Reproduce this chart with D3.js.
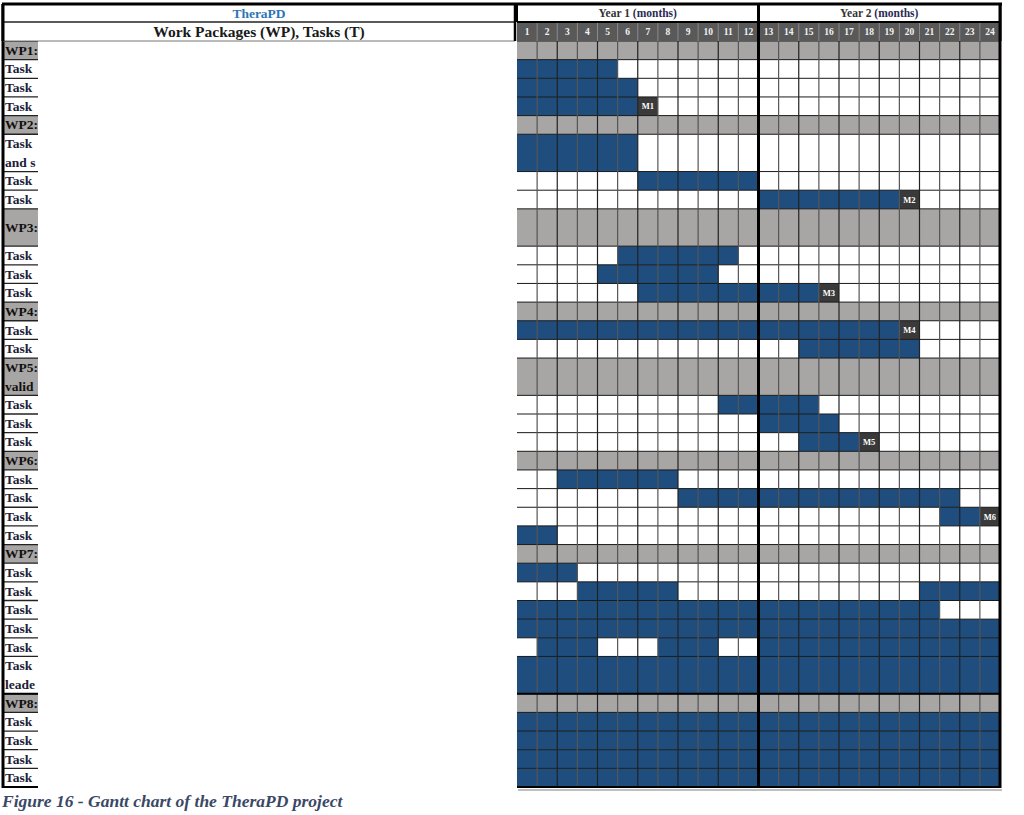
<!DOCTYPE html>
<html><head><meta charset="utf-8">
<script src="https://cdn.jsdelivr.net/npm/d3@7"></script>
<style>html,body{margin:0;padding:0;background:#fff;}svg{display:block;}</style>
</head><body>
<svg id="c" width="1024" height="815"></svg>
<script>
// ---------- data ----------
const title = "TheraPD";
const leftHeader = "Work Packages (WP), Tasks (T)";
const yearLabels = ["Year 1", "Year 2"];
const monthLabels = ["1","2","3","4","5","6","7","8","9","10","11","12","13","14","15","16","17","18","19","20","21","22","23","24"];
const caption = "Figure 16 - Gantt chart of the TheraPD project";

const rowIds = ["WP1","T1.1","T1.2","T1.3","WP2","T2.1","T2.2","T2.3","WP3","T3.1","T3.2","T3.3","WP4","T4.1","T4.2","WP5","T5.1","T5.2","T5.3","WP6","T6.1","T6.2","T6.3","T6.4","WP7","T7.1","T7.2","T7.3","T7.4","T7.5","T7.6","WP8","T8.1","T8.2","T8.3","T8.4"];
const rowText = [["WP1:"],["Task"],["Task"],["Task"],["WP2:"],["Task","and s"],["Task"],["Task"],["WP3:"],["Task"],["Task"],["Task"],["WP4:"],["Task"],["Task"],["WP5:","valid"],["Task"],["Task"],["Task"],["WP6:"],["Task"],["Task"],["Task"],["Task"],["WP7:"],["Task"],["Task"],["Task"],["Task"],["Task"],["Task","leade"],["WP8:"],["Task"],["Task"],["Task"],["Task"]];
const rowUnits = [1,1,1,1, 1,2,1,1, 2,1,1,1, 1,1,1, 2,1,1,1, 1,1,1,1,1, 1,1,1,1,1,1,2, 1,1,1,1,1];
// active months per task (inclusive ranges)
const taskBars = {
  "T1.1":[[1,5]], "T1.2":[[1,6]], "T1.3":[[1,6]],
  "T2.1":[[1,6]], "T2.2":[[7,12]], "T2.3":[[13,19]],
  "T3.1":[[6,11]], "T3.2":[[5,10]], "T3.3":[[7,15]],
  "T4.1":[[1,19]], "T4.2":[[15,20]],
  "T5.1":[[11,15]], "T5.2":[[13,16]], "T5.3":[[15,17]],
  "T6.1":[[3,8]], "T6.2":[[9,22]], "T6.3":[[22,23]], "T6.4":[[1,2]],
  "T7.1":[[1,3]], "T7.2":[[4,8],[21,24]], "T7.3":[[1,21]], "T7.4":[[1,24]], "T7.5":[[2,4],[8,10],[13,24]], "T7.6":[[1,24]],
  "T8.1":[[1,24]], "T8.2":[[1,24]], "T8.3":[[1,24]], "T8.4":[[1,24]]
};
const milestoneRows = ["T1.3","T2.3","T3.3","T4.1","T5.3","T6.3"];
const milestoneMonths = [7,20,16,20,18,24];
const milestoneLabels = ["M1","M2","M3","M4","M5","M6"];

// ---------- drawing ----------
const BLUE = "#1f4e7e", GREY = "#a8a5a5", DARK = "#595959", MS = "#3a3a3a";
const SERIF = "'Liberation Serif','DejaVu Serif',serif";
const svg = d3.select("#c");

const x = d3.scaleBand().domain(monthLabels).range([517, 1000]).paddingInner(0).paddingOuter(0);
const totalUnits = d3.sum(rowUnits);
const y = d3.scaleLinear().domain([0, totalUnits]).range([41, 787]);
const starts = [0, ...d3.cumsum(rowUnits)];
const rows = rowIds.map((id, i) => ({id, i, text: rowText[i], u0: starts[i], u1: starts[i+1], wp: id.startsWith("WP")}));
const byId = new Map(rows.map(r => [r.id, r]));
const xs = m => x(String(m));
const xe = m => x(String(m)) + x.bandwidth();

// grey WP rows
svg.append("g").selectAll("rect").data(rows.filter(r => r.wp)).join("rect")
  .attr("x", 517).attr("width", 1000 - 517)
  .attr("y", r => y(r.u0)).attr("height", r => y(r.u1) - y(r.u0))
  .attr("fill", GREY);
svg.append("g").selectAll("rect").data(rows.filter(r => r.wp)).join("rect")
  .attr("x", 3).attr("width", 35)
  .attr("y", r => y(r.u0)).attr("height", r => y(r.u1) - y(r.u0))
  .attr("fill", GREY);

// task bars
const segs = [];
rows.filter(r => !r.wp).forEach(r => (taskBars[r.id] || []).forEach(s => segs.push({r, a: s[0], b: s[1]})));
svg.append("g").selectAll("rect").data(segs).join("rect")
  .attr("x", d => xs(d.a)).attr("width", d => xe(d.b) - xs(d.a))
  .attr("y", d => y(d.r.u0)).attr("height", d => y(d.r.u1) - y(d.r.u0))
  .attr("fill", BLUE);

// milestones
const ms = milestoneRows.map((id, k) => ({r: byId.get(id), m: milestoneMonths[k], label: milestoneLabels[k]}));
const gm = svg.append("g");
gm.selectAll("rect").data(ms).join("rect")
  .attr("x", d => xs(d.m)).attr("width", x.bandwidth())
  .attr("y", d => y(d.r.u0)).attr("height", d => y(d.r.u1) - y(d.r.u0))
  .attr("fill", MS);
gm.selectAll("text").data(ms).join("text")
  .attr("x", d => xs(d.m) + x.bandwidth()/2).attr("y", d => (y(d.r.u0) + y(d.r.u1))/2 + 3)
  .attr("text-anchor", "middle").attr("fill", "#fff")
  .style("font", `bold 8.5px ${SERIF}`).text(d => d.label);

// grid lines (horizontal)
const gl = svg.append("g");
gl.selectAll("line.h").data(starts).join("line").attr("class","h")
  .attr("x1", 517).attr("x2", 1000).attr("y1", u => y(u)).attr("y2", u => y(u))
  .attr("stroke", "#1a1a1a").attr("stroke-width", 1);
gl.selectAll("line.hl").data(starts).join("line").attr("class","hl")
  .attr("x1", 3).attr("x2", 38).attr("y1", u => y(u)).attr("y2", u => y(u))
  .attr("stroke", "#222").attr("stroke-width", 1.3);
// vertical
gl.selectAll("line.v").data(monthLabels.slice(1)).join("line").attr("class","v")
  .attr("x1", m => x(m)).attr("x2", m => x(m)).attr("y1", 41).attr("y2", 787)
  .attr("stroke", (m, i) => i % 2 ? "#222" : "#555").attr("stroke-width", 1.2);

// thick lines
const ydiv = xs(13);
svg.append("line").attr("x1", ydiv).attr("x2", ydiv).attr("y1", 4).attr("y2", 788).attr("stroke", "#000").attr("stroke-width", 3);
svg.append("line").attr("x1", 1000).attr("x2", 1000).attr("y1", 4).attr("y2", 788).attr("stroke", "#000").attr("stroke-width", 3);
svg.append("line").attr("x1", 517).attr("x2", 1001).attr("y1", 787).attr("y2", 787).attr("stroke", "#000").attr("stroke-width", 2);
svg.append("line").attr("x1", 518).attr("x2", 1002).attr("y1", 790).attr("y2", 790).attr("stroke", "#aaa").attr("stroke-width", 1.5);
svg.append("line").attr("x1", 3).attr("x2", 3).attr("y1", 4).attr("y2", 788).attr("stroke", "#000").attr("stroke-width", 3);
svg.append("line").attr("x1", 2).attr("x2", 38).attr("y1", 787).attr("y2", 787).attr("stroke", "#000").attr("stroke-width", 2);
// thick line above WP8
const y8 = y(byId.get("WP8").u0);
[[3, 38], [517, 1000]].forEach(([a, b]) =>
  svg.append("line").attr("x1", a).attr("x2", b).attr("y1", y8).attr("y2", y8).attr("stroke", "#000").attr("stroke-width", 2));

// labels
svg.append("clipPath").attr("id","lc").append("rect").attr("x",3).attr("y",41).attr("width",35).attr("height",750);
const gt = svg.append("g").attr("clip-path","url(#lc)");
rows.forEach(r => {
  const h = y(r.u1) - y(r.u0);
  r.text.forEach((t, k) => {
    let cy;
    if (r.text.length === 1) cy = (y(r.u0) + y(r.u1)) / 2;
    else cy = y(r.u0) + h * (k + 0.5) / r.text.length;
    gt.append("text").attr("x", 5).attr("y", cy + 4.5)
      .attr("fill", r.wp ? "#111" : "#202036")
      .style("font", `bold 13.5px ${SERIF}`).text(t);
  });
});

// ---------- header ----------
const H0 = 4, H1 = 22, H2 = 41;
// left header
svg.append("rect").attr("x", 3).attr("y", H0).attr("width", 512).attr("height", H2 - H0).attr("fill", "#fff");
svg.append("line").attr("x1", 3).attr("x2", 515).attr("y1", H1).attr("y2", H1).attr("stroke", "#222").attr("stroke-width", 1.3);
svg.append("line").attr("x1", 3).attr("x2", 515).attr("y1", H2).attr("y2", H2).attr("stroke", "#777").attr("stroke-width", 1);
svg.append("line").attr("x1", 515).attr("x2", 515).attr("y1", H0).attr("y2", H2).attr("stroke", "#000").attr("stroke-width", 2.5);
svg.append("text").attr("x", 259).attr("y", 18).attr("text-anchor", "middle").attr("fill", "#2e75b6")
  .style("font", `bold 13.5px ${SERIF}`).text(title);
svg.append("text").attr("x", 259).attr("y", 37).attr("text-anchor", "middle").attr("fill", "#1a1a1a")
  .style("font", `bold 15.5px ${SERIF}`).text(leftHeader);

// year cells
const years = yearLabels.map((t, k) => ({t, a: xs(k*12+1), b: xe(k*12+12)}));
svg.append("g").selectAll("rect").data(years).join("rect")
  .attr("x", d => d.a).attr("y", H0).attr("width", d => d.b - d.a).attr("height", H1 - H0).attr("fill", "#fff");
const yt = svg.append("g").selectAll("text").data(years).join("text")
  .attr("x", d => (d.a + d.b)/2).attr("y", 17).attr("text-anchor", "middle")
  .style("font", `bold 11.5px ${SERIF}`);
yt.append("tspan").attr("fill", "#333").text(d => d.t + " ");
yt.append("tspan").attr("fill", "#2a2a55").text("(months)");

// month number cells
svg.append("rect").attr("x", 517).attr("y", H1).attr("width", 1000 - 517).attr("height", H2 - H1).attr("fill", DARK);
svg.append("g").selectAll("line").data(monthLabels.slice(1)).join("line")
  .attr("x1", m => x(m)).attr("x2", m => x(m)).attr("y1", H1).attr("y2", H2)
  .attr("stroke", "#8a8a8a").attr("stroke-width", 1);
svg.append("g").selectAll("text").data(monthLabels).join("text")
  .attr("x", m => x(m) + x.bandwidth()/2).attr("y", 35).attr("text-anchor", "middle")
  .attr("fill", "#f2f2f2").style("font", `bold 9.5px ${SERIF}`).text(m => m);

// header borders
svg.append("line").attr("x1", 2).attr("x2", 1002).attr("y1", H0).attr("y2", H0).attr("stroke", "#000").attr("stroke-width", 3);
svg.append("line").attr("x1", 517).attr("x2", 1000).attr("y1", H1).attr("y2", H1).attr("stroke", "#000").attr("stroke-width", 2);
svg.append("line").attr("x1", 517).attr("x2", 517).attr("y1", H0).attr("y2", H1).attr("stroke", "#000").attr("stroke-width", 2);
svg.append("line").attr("x1", ydiv).attr("x2", ydiv).attr("y1", H0).attr("y2", H2).attr("stroke", "#000").attr("stroke-width", 3);
svg.append("line").attr("x1", 1000).attr("x2", 1000).attr("y1", H0).attr("y2", H2).attr("stroke", "#000").attr("stroke-width", 3);
svg.append("line").attr("x1", 3).attr("x2", 3).attr("y1", H0).attr("y2", H2).attr("stroke", "#000").attr("stroke-width", 3);

// caption
svg.append("text").attr("x", 2).attr("y", 807).attr("fill", "#3a4866")
  .style("font", `italic bold 17.5px ${SERIF}`).text(caption);
</script>
</body></html>
